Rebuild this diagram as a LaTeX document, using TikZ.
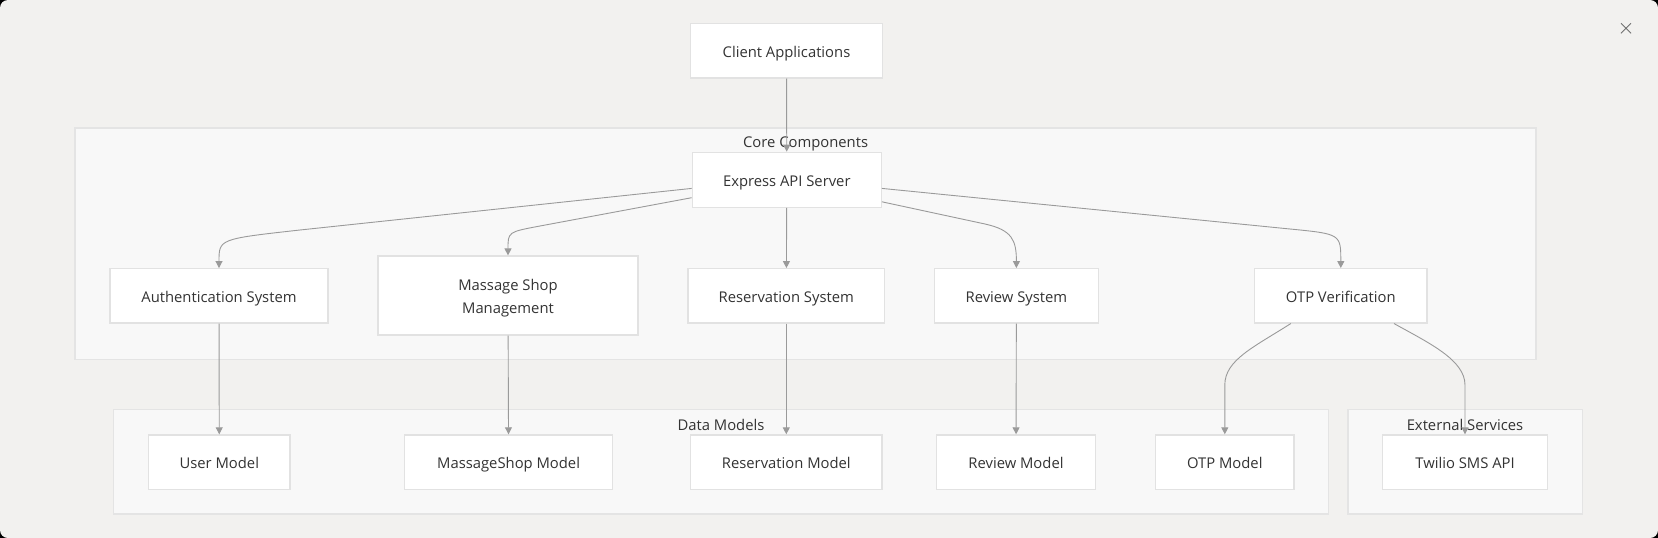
\documentclass[tikz,border=0pt]{standalone}
\usepackage{fontspec}
\setmainfont{Open Sans}
\usepackage{tikz}
\usetikzlibrary{arrows.meta}

\definecolor{bgcol}{HTML}{F2F1EF}
\definecolor{grpfill}{HTML}{F8F8F8}
\definecolor{grpline}{HTML}{E4E4E4}
\definecolor{boxline}{HTML}{E2E2E2}
\definecolor{edgecol}{HTML}{9A9A9A}
\definecolor{txtcol}{HTML}{333333}

\begin{document}
\begin{tikzpicture}[x=1pt, y=-1pt,
		box/.style={rectangle,draw=boxline,fill=white,line width=1.2pt,inner sep=0pt,
			text=txtcol,align=center,text height=14pt,text depth=0.7pt,font=\fontsize{14.8}{23}\selectfont},
		group/.style={draw=grpline,fill=grpfill,line width=1.5pt},
		group_label/.style={text=txtcol,inner sep=0pt,font=\fontsize{14.8}{18}\selectfont},
		edge_style/.style={draw=edgecol,line width=0.9pt,-{Triangle[width=7pt,length=7pt]}}]

		% window
		\fill[black] (0,0) rectangle (1658,538);
		\fill[bgcol, rounded corners=8pt] (0,0) rectangle (1658,538);
		\useasboundingbox (0,0) rectangle (1658,538);
		\draw[txtcol!70, line width=0.9pt] (1621,23.3) -- (1631,33.3) (1621,33.3) -- (1631,23.3);

		% groups
		\draw[group] (75.2,128) rectangle (1536,359.6);
		\draw[group] (113.7,409.4) rectangle (1328.6,514);
		\draw[group] (1348,409.4) rectangle (1582.5,514);
		\node[group_label] (lcore) at (805.6,143.7) {Core Components};
		\node[group_label] (ldata) at (721,425) {Data Models};
		\node[group_label] (lext) at (1465,425) {External Services};

		% nodes
		\node[box, minimum width=191.7pt, minimum height=54.2pt] (client) at (786.5,50.8) {Client Applications};
		\node[box, minimum width=189pt, minimum height=55pt] (express) at (786.8,179.8) {Express API Server};

		\node[box, minimum width=218pt, minimum height=54.3pt] (auth) at (219,295.8) {Authentication System};
		\node[box, minimum width=260pt, minimum height=79pt, text height=37pt] (shop) at (508,295.5) {Massage Shop\\Management};
		\node[box, minimum width=196.6pt, minimum height=54.3pt] (reserv) at (786.3,295.8) {Reservation System};
		\node[box, minimum width=163.6pt, minimum height=54.3pt] (review) at (1016.4,295.8) {Review System};
		\node[box, minimum width=172.3pt, minimum height=54.3pt] (otp) at (1340.8,295.8) {OTP Verification};

		\node[box, minimum width=141.3pt, minimum height=54.2pt] (user_m) at (219.3,462) {User Model};
		\node[box, minimum width=207.8pt, minimum height=54.2pt] (shop_m) at (508.6,462) {MassageShop Model};
		\node[box, minimum width=191.4pt, minimum height=54.2pt] (reserv_m) at (786.3,462) {Reservation Model};
		\node[box, minimum width=158.7pt, minimum height=54.2pt] (review_m) at (1016,462) {Review Model};
		\node[box, minimum width=138.3pt, minimum height=54.2pt] (otp_m) at (1224.8,462) {OTP Model};
		\node[box, minimum width=164.5pt, minimum height=54.2pt] (twilio) at (1465,462) {Twilio SMS API};

		% edges
		\draw[edge_style] (client) -- (express);
		\draw[edge_style] ([yshift=-8.6pt]express.west) -- (300,230) .. controls (219,239) .. (auth.north);
		\draw[edge_style] ([yshift=-17.9pt]express.west) -- (540,226) .. controls (508,232) .. (shop.north);
		\draw[edge_style] (express) -- (reserv);
		\draw[edge_style] ([yshift=-22pt]express.east) -- (985,224) .. controls (1012,230) and (1016.4,240) .. (review.north);
		\draw[edge_style] ([yshift=-8.6pt]express.east) -- (1290,229) .. controls (1340.8,234) .. (otp.north);

		\draw[edge_style] (auth) -- (user_m);
		\draw[edge_style] (shop) -- (shop_m);
		\draw[edge_style] (reserv) -- (reserv_m);
		\draw[edge_style] (review) -- (review_m);
		\draw[edge_style] ([xshift=-50pt]otp.south) .. controls (1254,347) and (1224.8,360) .. (1224.8,385) -- (otp_m.north);
		\draw[edge_style] ([xshift=53.2pt]otp.south) .. controls (1429,343) and (1465,360) .. (1465,385) -- (twilio.north);

		\end{tikzpicture}
\end{document}
